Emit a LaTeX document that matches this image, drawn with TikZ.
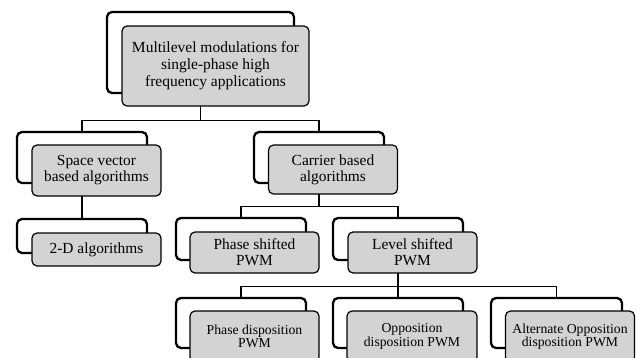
\documentclass[tikz,border=0pt]{standalone}
\usepackage{fontspec}
\setmainfont{Liberation Serif}
\definecolor{boxgray}{RGB}{211,211,211}
\begin{document}
\begin{tikzpicture}[x=1pt,y=-1pt,
  backbox/.style={draw=black, line width=2.3pt, fill=white, rounded corners=5pt,
    inner sep=0pt, minimum width=#1},
  frontbox/.style={draw=black, line width=1.2pt, fill=boxgray, rounded corners=5pt,
    inner sep=0pt, minimum width=#1, align=center, text=black},
  bigtxt/.style={font=\fontsize{15.5}{17}\selectfont},
  midtxt/.style={font=\fontsize{15.4}{16}\selectfont},
  smalltxt/.style={font=\fontsize{13.7}{13.5}\selectfont},
  conn/.style={draw=black, line width=1.1pt}]
\useasboundingbox (0,0) rectangle (636,358);
\clip (0,0) rectangle (636,358);

% back boxes
\node[backbox=187pt, minimum height=81pt] (topb) at (200.5,52.5) {};
\node[backbox=130pt, minimum height=51pt] (svb) at (82,157.5) {};
\node[backbox=130pt, minimum height=51pt] (cbb) at (319,157.5) {};
\node[backbox=130pt, minimum height=34pt] (tdb) at (82,236) {};
\node[backbox=130pt, minimum height=42pt] (psb) at (241,239) {};
\node[backbox=130pt, minimum height=42pt] (lsb) at (398,239) {};
\node[backbox=130pt, minimum height=50pt] (pdb) at (241,323) {};
\node[backbox=130pt, minimum height=50pt] (odb) at (398,323) {};
\node[backbox=131pt, minimum height=50pt] (aob) at (556.5,323) {};

% connectors
\draw[conn] (topb.south) -- ++(0,26) coordinate (bus1) -| (svb.north);
\draw[conn] (bus1) -| (cbb.north);
\draw[conn] (svb.south) -- (tdb.north);
\draw[conn] (cbb.south) -- ++(0,22) coordinate (bus2) -| (psb.north);
\draw[conn] (bus2) -| (lsb.north);
\draw[conn] (lsb.south) -- ++(0,25) coordinate (bus3) -| (pdb.north);
\draw[conn] (bus3) -- (odb.north);
\draw[conn] (bus3) -| (aob.north);

% front boxes
\node[frontbox=187pt, minimum height=80pt, bigtxt] (top) at (215.5,66)
  {Multilevel modulations for\\single-phase high\\frequency applications};
\node[frontbox=129pt, minimum height=51pt, midtxt] (sv) at (96.5,170.5)
  {Space vector\\based algorithms};
\node[frontbox=129pt, minimum height=49pt, midtxt] (cb) at (333,169.5)
  {Carrier based\\algorithms};
\node[frontbox=129pt, minimum height=33pt, midtxt] (td) at (96.5,249.5)
  {2-D algorithms};
\node[frontbox=129pt, minimum height=41pt, midtxt] (ps) at (254.5,252.5)
  {Phase shifted\\PWM};
\node[frontbox=129pt, minimum height=41pt, midtxt] (ls) at (412.5,252.5)
  {Level shifted\\PWM};
\node[frontbox=129pt, minimum height=51pt, smalltxt] (pd) at (254.5,336.5)
  {Phase disposition\\PWM};
\node[frontbox=130pt, minimum height=51pt, smalltxt] (od) at (412,336.5)
  {Opposition\\disposition PWM};
\node[frontbox=129pt, minimum height=51pt, smalltxt] (ao) at (570,336.5)
  {Alternate Opposition\\disposition PWM};
\end{tikzpicture}
\end{document}
